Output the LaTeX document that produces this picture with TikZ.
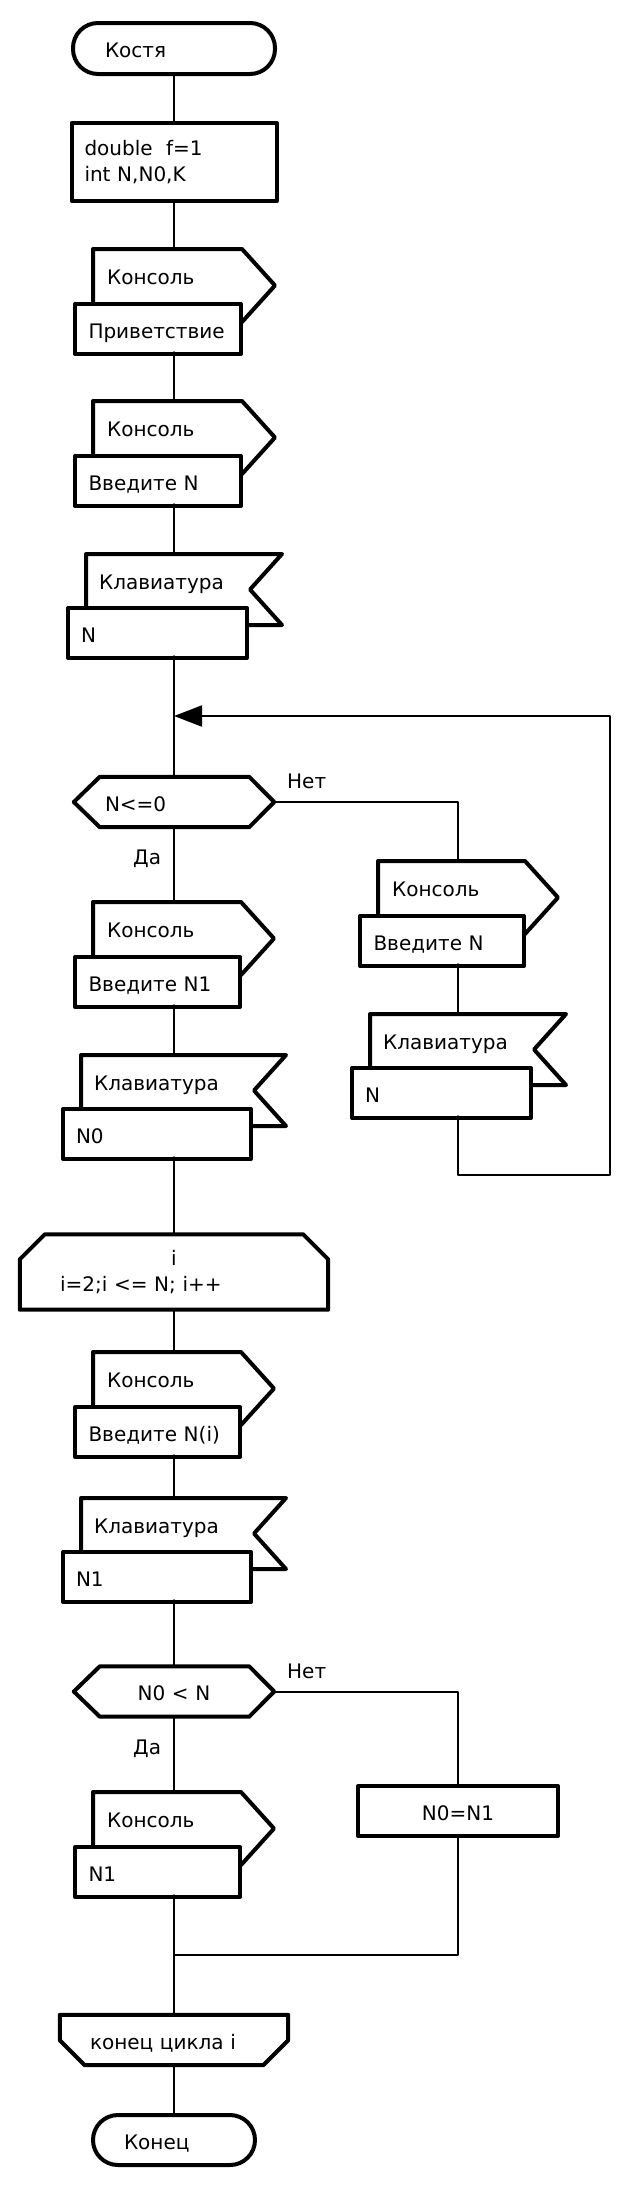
\documentclass[tikz,border=0pt]{standalone}
\usepackage{fontspec}
\setmainfont{DejaVu Sans}
\usetikzlibrary{arrows.meta}
\tikzset{
    shp/.style={line width=4pt},
    con/.style={line width=2pt},
    txt/.style={text height=18.5pt, text depth=0pt},
    blk/.style={draw, shp, fill=white, inner ysep=0pt, align=left},
    dec/.style={inner ysep=0pt, minimum width=200pt, minimum height=50pt, align=left},
    lbl/.style={txt, inner sep=0pt, anchor=west},
}
\begin{document}
\begin{tikzpicture}[x=1pt, y=-1pt, line join=round, line cap=round, font=\fontsize{20pt}{26pt}\selectfont]
    \useasboundingbox (0,0) rectangle (640,2188);
    % start, declarations
    \node[blk, txt, rounded corners=25pt, minimum width=202pt, minimum height=51pt, inner xsep=32pt, text width=138pt] (start) at (174,48.5) {Костя};
    \node[blk, minimum width=205pt, minimum height=78pt, inner xsep=13pt, text width=179pt] (dbl) at (174,162) {double\ \ f=1\\int N,N0,K};
    % console output
    \foreach \id/\x/\y/\w/\lx/\txt in {
        hello/73/302/166/174/Приветствие,
        askN/73/454/166/174/Введите N,
        askNa/73/955/165/174/Введите N1,
        askNb/358/914/164/458/Введите N,
        askNi/73/1405/165/174/Введите N(i),
        outN1/73/1845/165/174/N1%
    } {
        \pgfmathsetmacro\tw{\w-27}
        \draw[shp, fill=white] (\x+20,\y+20) -- (\x+20,\y-53) -- (\x+\w+3,\y-53)
            -- (\x+\w+36,\y-16.5) -- (\x+\w+3,\y+20) -- cycle;
        \node[lbl] (\id-hd) at (\x+34,\y-26.5) {Консоль};
        \node[blk, txt, anchor=north west, minimum height=50pt, inner xsep=13.5pt, text width=\tw pt] (\id) at (\x,\y) {\txt};
        \coordinate (\id-in) at (\lx,\y-53);
        \coordinate (\id-out) at (\lx,\y+50);
    }
    % keyboard input
    \foreach \id/\x/\y/\w/\lx/\txt in {
        getN/66/606/180/174/N,
        getN0/61/1107/189/174/N0,
        getNb/350/1066/180/458/N,
        getN1/61/1550/189/174/N1%
    } {
        \pgfmathsetmacro\tw{\w-27}
        \draw[shp, fill=white] (\x+20,\y+19) -- (\x+20,\y-52) -- (\x+\w+36,\y-52)
            -- (\x+\w+4,\y-16.5) -- (\x+\w+36,\y+19) -- cycle;
        \node[lbl] (\id-hd) at (\x+33,\y-26) {Клавиатура};
        \node[blk, txt, anchor=north west, minimum height=50pt, inner xsep=13pt, text width=\tw pt] (\id) at (\x,\y) {\txt};
        \coordinate (\id-in) at (\lx,\y-52);
        \coordinate (\id-out) at (\lx,\y+50);
    }
    % decisions
    \node[dec, txt, inner xsep=31pt, text width=138pt] (chk) at (174,802) {N<=0};
    \node[dec, txt, align=center, text width=138pt] (cmp) at (174,1691.5) {N0 < N};
    \foreach \id/\y in {chk/779, cmp/1669} {
        \draw[shp] (\id.west) -- ([xshift=26pt]\id.north west) -- ([xshift=-25pt]\id.north east)
            -- (\id.east) -- ([xshift=-25pt]\id.south east) -- ([xshift=26pt]\id.south west) -- cycle;
        \node[lbl] (\id-no) at (287,\y) {Нет};
        \node[lbl] (\id-yes) at (133,\y+76) {Да};
    }
    % loop i
    \node[dec, minimum width=308pt, minimum height=75pt, inner xsep=40pt, text width=228pt] (lp) at (174,1272) {\makebox[228pt]{i}\\i=2;i <= N; i++};
    \draw[shp] (lp.south west) -- ([yshift=-25pt]lp.north west) -- ([xshift=25pt]lp.north west)
        -- ([xshift=-25pt]lp.north east) -- ([yshift=-25pt]lp.north east) -- (lp.south east) -- cycle;
    \node[blk, txt, minimum width=200pt, minimum height=50pt, align=center] (setN0) at (458,1811) {N0=N1};
    \node[dec, txt, minimum width=228pt, inner xsep=30pt, text width=168pt] (lpe) at (174,2040) {конец цикла i};
    \draw[shp] (lpe.north west) -- (lpe.north east) -- ([yshift=25pt]lpe.south east) -- ([xshift=-25pt]lpe.south east)
        -- ([xshift=25pt]lpe.south west) -- ([yshift=25pt]lpe.south west) -- cycle;
    \node[blk, txt, rounded corners=25pt, minimum width=162pt, minimum height=50pt, inner xsep=31pt, text width=100pt] (stop) at (174,2140) {Конец};
    % connectors
    \coordinate (back) at (610,1175);
    \coordinate (join) at (174,716);
    \coordinate (merge) at (174,1955);
    \foreach \a/\b in {start/dbl, dbl/hello-in, hello-out/askN-in, askN-out/getN-in, getN-out/chk,
        chk/askNa-in, askNa-out/getN0-in, askNb-out/getNb-in, getN0-out/lp, lp/askNi-in,
        askNi-out/getN1-in, getN1-out/cmp, cmp/outN1-in, outN1-out/lpe, lpe/stop%
    } {
        \draw[con] (\a) -- (\b);
    }
    \draw[con] (chk.east) -| (askNb-in);
    \draw[con] (cmp.east) -| (setN0);
    \draw[con] (setN0) |- (merge);
    \draw[con, -{Triangle[length=28pt, width=21pt]}] (getNb-out) |- (back) |- (join);
\end{tikzpicture}
\end{document}
